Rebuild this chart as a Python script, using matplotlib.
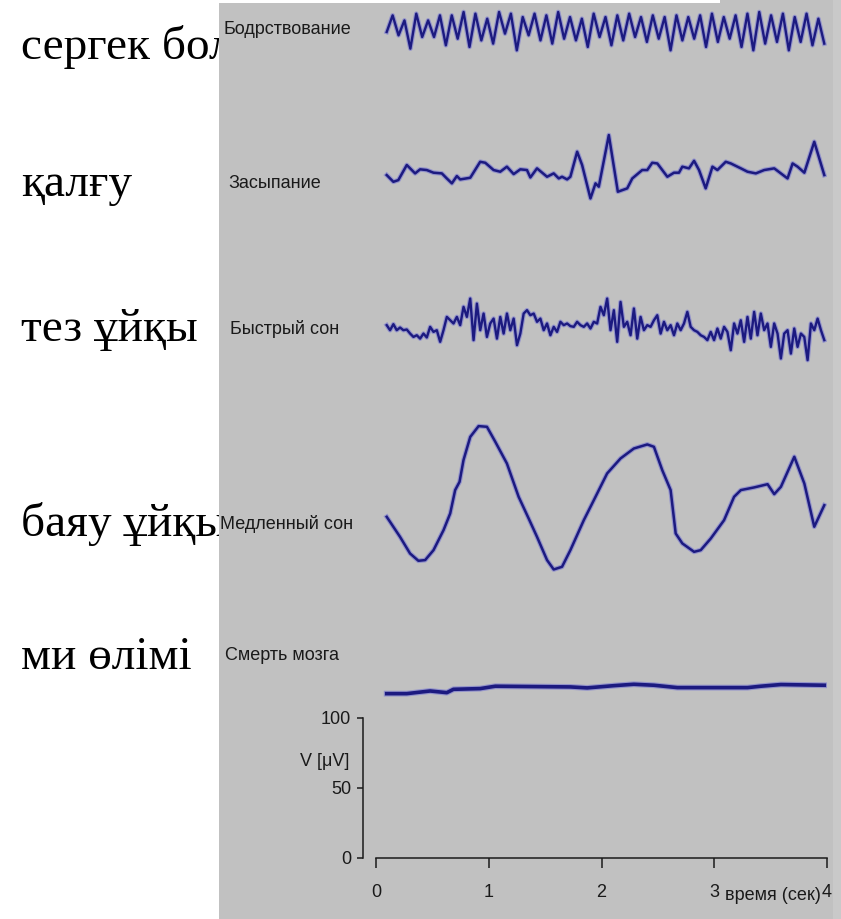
import numpy as np
import matplotlib.pyplot as plt
from matplotlib import font_manager as fm
from matplotlib.patches import Rectangle

# stage names: Kazakh (left, partly hidden by the panel) and Russian (on the panel)
kz_labels = ["сергек бол", "қалғу", "тез ұйқы", "баяу ұйқы", "ми өлімі"]
ru_labels = ["Бодрствование", "Засыпание", "Быстрый сон", "Медленный сон", "Смерть мозга"]

# EEG traces in microvolts, relative to each trace's own baseline
# wake (alpha) and REM are read on an even sampling grid
wake_uv = [0, 11.9, -2.4, 8.3, -11.9, 13.1, -3.6, 8.3, -3.6, 11.9,
           -9.5, 11.9, -4.8, 14.3, -10.7, 13.1, -6.0, 9.5, -8.3, 14.3,
           -1.2, 13.1, -13.1, 10.7, -2.4, 13.1, -6.0, 11.9, -8.3, 14.3,
           -4.8, 10.7, -6.0, 9.5, -10.7, 13.1, -3.6, 10.7, -9.5, 11.9,
           -6.0, 13.1, -3.6, 10.7, -7.1, 11.9, -4.8, 10.7, -13.1, 11.9,
           -6.0, 10.7, -4.8, 11.9, -10.7, 13.1, -7.1, 10.7, -4.8, 11.9,
           -10.7, 13.1, -13.1, 14.3, -8.3, 11.9, -7.1, 13.1, -13.1, 10.7,
           -7.1, 13.1, -9.5, 9.5, -8.3]

rem_uv = [3.6, 0, 4.3, 0, 1.9, 0, 0.5, -2.4, -4.8, -3.6,
          -6.0, -2.4, -5.2, 2.4, -1.2, 0, -8.3, 0, 9.5, 7.1,
          4.8, 9.5, 3.6, 16.7, 9.5, 22.6, -7.1, 19.0, 0, 11.9,
          -4.8, 4.8, 8.3, -6.0, 9.5, -2.4, 11.9, 0, 8.3, -10.7,
          -2.4, 11.9, 14.3, 10.7, 11.9, 6.0, 8.3, 0, 4.8, -3.6,
          2.4, -1.2, 6.0, 3.6, 4.8, 2.9, 2.4, 6.0, 3.6, 2.4,
          4.8, 1.2, 6.0, 4.8, 16.7, 10.7, 22.6, 0, 14.3, -8.3,
          20.2, 2.4, 6.0, -3.6, 15.5, -6.0, 9.5, 0, 3.6, 2.4,
          7.1, 10.7, -2.4, 6.0, 0, 3.6, -3.6, 4.8, 0, 4.8,
          13.1, 2.4, 0, -1.2, -3.6, -4.8, -7.1, -1.2, -7.1, 1.2,
          -6.0, 2.4, -1.2, -14.3, 4.8, -2.4, 7.1, -8.3, 9.5, -6.0,
          13.1, -3.6, 11.9, 0, 4.8, -11.9, 4.8, -2.4, -20.2, -2.4,
          0, -16.7, 1.2, -11.9, -2.4, -4.8, -21.4, 4.8, 0, 8.3,
          0, -7.1]

onset_t = [0.095, 0.154, 0.198, 0.273, 0.347, 0.391, 0.45, 0.51, 0.584, 0.628,
           0.673, 0.717, 0.747, 0.836, 0.924, 0.969, 1.043, 1.102, 1.161, 1.221,
           1.28, 1.339, 1.369, 1.428, 1.517, 1.576, 1.621, 1.65, 1.695, 1.724,
           1.784, 1.828, 1.902, 1.947, 1.976, 2.065, 2.145, 2.228, 2.273, 2.361,
           2.406, 2.45, 2.495, 2.584, 2.643, 2.687, 2.717, 2.776, 2.821, 2.865,
           2.924, 2.984, 3.028, 3.102, 3.147, 3.236, 3.295, 3.369, 3.443, 3.532,
           3.591, 3.65, 3.695, 3.739, 3.799, 3.887, 3.976]
onset_uv = [-1.2, -6.0, -4.8, 6.0, 0, 2.9, 2.4, 0.5, 0, -3.6,
            -7.1, -1.9, -4.3, -3.1, 8.3, 7.6, 2.4, 1.2, 4.8, -0.5,
            2.9, 2.4, -2.9, 3.6, -2.4, 0, -3.6, -2.4, -4.3, -2.4,
            15.5, 6.0, -17.9, -7.1, -9.5, 27.4, -13.1, -10.7, -3.6, 2.4,
            2.4, 7.6, 7.1, -2.4, 0.5, 0.5, 4.8, 3.6, 9.0, 2.4,
            -10.7, 4.8, 2.4, 8.3, 7.1, 3.6, 1.2, 0, 2.4, 3.6,
            0, -3.6, 7.1, 4.8, 0.5, 22.6, -1.2]

slow_t = [0.095, 0.213, 0.302, 0.376, 0.436, 0.510, 0.599, 0.658, 0.702, 0.741,
          0.776, 0.836, 0.910, 0.984, 1.058, 1.161, 1.265, 1.354, 1.428, 1.517,
          1.576, 1.650, 1.724, 1.843, 1.932, 2.050, 2.169, 2.287, 2.406, 2.465,
          2.539, 2.613, 2.658, 2.717, 2.821, 2.880, 2.969, 3.087, 3.176, 3.236,
          3.354, 3.473, 3.532, 3.591, 3.710, 3.799, 3.887, 3.976]
slow_uv = [-14.3, -28.6, -40.5, -45.7, -45.2, -38.1, -23.8, -11.9, 4.8, 10.7,
           26.2, 42.8, 50.5, 50.0, 39.3, 23.8, 0, -15.5, -28.6, -45.2,
           -51.9, -50.0, -38.1, -16.7, -2.4, 16.7, 27.4, 34.5, 37.4, 35.7,
           19.0, 4.8, -26.2, -33.3, -39.3, -38.1, -29.8, -16.7, 0, 4.8,
           6.7, 9.0, 1.9, 7.1, 28.6, 9.5, -21.4, -6.0]

death_t = [0.095, 0.273, 0.480, 0.628, 0.687, 0.924, 1.058, 1.724, 1.873, 2.110,
           2.287, 2.465, 2.673, 3.295, 3.413, 3.591, 3.976]
death_uv = [-3.6, -3.6, -1.7, -2.9, -0.5, 0, 1.7, 1.2, 0.5, 2.1,
            3.1, 2.4, 0.7, 0.7, 1.7, 2.9, 2.4]

y_ticks = [0, 50, 100]
x_ticks = [0, 1, 2, 3, 4]

# ---- layout (pixels of the 841x919 picture) ----
W, H = 841, 919
def fx(x): return x / W
def fy(y): return 1 - y / H

ink = '#1c1a80'
halo = '#5b5bd6'
gray = '#c1c1c1'
serif = ['Liberation Serif', 'DejaVu Serif']

# the original lettering is a tall narrow sans; use a narrow face if there is one
installed = {f.name for f in fm.fontManager.ttflist}
if 'Liberation Sans Narrow' in installed:
    sans = dict(family=['Liberation Sans Narrow', 'DejaVu Sans'])
    lab_size, tick_size = 15, 15
else:
    sans = dict(family=['Liberation Sans', 'DejaVu Sans'])
    lab_size, tick_size = 13, 13

fig = plt.figure(figsize=(W / 100, H / 100), dpi=100)

# Kazakh names sit under the gray panel, so they get cut off at its edge
kz_pos = [(21, 59), (21, 196), (21, 341), (21, 536), (21, 669)]
for lab, (x, y) in zip(kz_labels, kz_pos):
    fig.text(fx(x), fy(y), lab, family=serif, size=34, color='black',
             ha='left', va='baseline', zorder=1)

fig.add_artist(Rectangle((fx(219), 0), 1 - fx(219), fy(3), transform=fig.transFigure,
                         facecolor=gray, edgecolor='none', zorder=2))
fig.add_artist(Rectangle((fx(720), fy(3)), 1 - fx(720), 1 - fy(3), transform=fig.transFigure,
                         facecolor=gray, edgecolor='none', zorder=2))
fig.add_artist(Rectangle((fx(833), 0), 1 - fx(833), 1, transform=fig.transFigure,
                         facecolor='#c9c9c9', edgecolor='none', zorder=2))

ru_pos = [(223, 29), (228, 184), (230, 329), (220, 524), (225, 656)]
for lab, (x, y) in zip(ru_labels, ru_pos):
    fig.text(fx(x), fy(y), lab, size=lab_size, color='#1a1a1a',
             ha='left', va='center', zorder=5, **sans)

# one shared axis: 0..4 s, microvolts; 1.4 px per microvolt
px_per_uv = 1.4
ax = fig.add_axes([fx(376), fy(858), fx(827) - fx(376), 858 / H])
ax.set_zorder(3)
ax.patch.set_visible(False)
ax.set_xlim(0, 4)
ax.set_ylim(0, 858 / px_per_uv)

baselines = [590, 489, 377, 258, 121]
t_wake = np.linspace(0.095, 3.976, len(wake_uv))
t_rem = np.linspace(0.095, 3.976, len(rem_uv))
traces = [(t_wake, wake_uv), (onset_t, onset_uv), (t_rem, rem_uv),
          (slow_t, slow_uv), (death_t, death_uv)]
widths = [1.7, 1.8, 1.7, 1.8, 2.6]
for (t, v), base, lw in zip(traces, baselines, widths):
    y = base + np.asarray(v)
    ax.plot(t, y, color=halo, lw=lw + 1.6, alpha=0.45, solid_joinstyle='round')
    ax.plot(t, y, color=ink, lw=lw, solid_joinstyle='round')

for s in ['top', 'right']:
    ax.spines[s].set_visible(False)
ax.spines['left'].set_position(('outward', 9.4))
ax.spines['left'].set_bounds(0, 100)
ax.spines['bottom'].set_bounds(0, 4)
for s in ['left', 'bottom']:
    ax.spines[s].set_color('#1a1a1a')
    ax.spines[s].set_linewidth(1.1)

ax.set_yticks(y_ticks)
ax.set_xticks(x_ticks)
ax.tick_params(axis='y', length=4.5, width=1.1, color='#1a1a1a', pad=4,
               labelsize=tick_size, labelcolor='#1a1a1a')
ax.tick_params(axis='x', length=7, width=1.1, color='#1a1a1a', pad=12,
               labelsize=tick_size, labelcolor='#1a1a1a')
for lab in ax.get_xticklabels() + ax.get_yticklabels():
    lab.set_family(sans['family'])

ax.annotate('V [μV]', xy=(0, 0), xycoords='axes fraction',
            xytext=(-19, (858 - 762) * 0.72), textcoords='offset points',
            ha='right', va='center', size=tick_size, color='#1a1a1a',
            annotation_clip=False, **sans)
ax.annotate('время (сек)', xy=(3.52, 0), xycoords='data',
            xytext=(0, -(895 - 858) * 0.72), textcoords='offset points',
            ha='center', va='center', size=tick_size, color='#1a1a1a',
            annotation_clip=False, **sans)

fig.savefig('out.png', dpi=100)
